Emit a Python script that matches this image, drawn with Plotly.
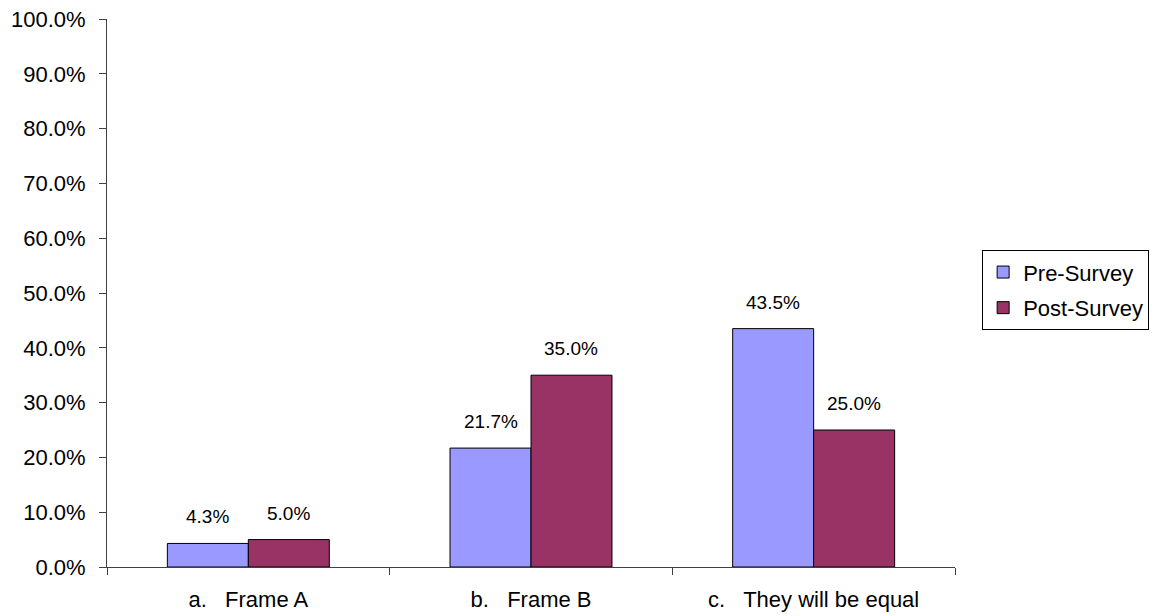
import plotly.graph_objects as go

categories = ["a.\u00a0\u00a0 Frame A", "b.\u00a0\u00a0 Frame B", "c.\u00a0\u00a0 They will be equal"]
pre_survey = [0.043, 0.217, 0.435]
post_survey = [0.050, 0.350, 0.250]
y_ticks = [0.0, 0.1, 0.2, 0.3, 0.4, 0.5, 0.6, 0.7, 0.8, 0.9, 1.0]

FONT = "Liberation Sans, Arial, sans-serif"
BARGAP = 0.427
AXIS = "#404040"

fig = go.Figure()
fig.add_trace(go.Bar(name="Pre-Survey", x=categories, y=pre_survey, legendgroup="pre",
                     marker=dict(color="#9999FF", line=dict(color="#000000", width=1))))
fig.add_trace(go.Bar(name="Post-Survey", x=categories, y=post_survey, legendgroup="post",
                     marker=dict(color="#993366", line=dict(color="#000000", width=1))))

half = (1 - BARGAP) / 4
for i in range(len(categories)):
    for v, off in ((pre_survey[i], -half), (post_survey[i], half)):
        fig.add_annotation(x=i + off, y=v, text=f"{v*100:.1f}%", showarrow=False,
                           yanchor="bottom", yshift=14,
                           font=dict(family=FONT, size=19, color="#000000"))

fig.update_layout(
    barmode="group", bargap=BARGAP, bargroupgap=0,
    width=1154, height=616,
    margin=dict(l=107, r=199, t=19, b=49, autoexpand=False),
    paper_bgcolor="white", plot_bgcolor="white",
    font=dict(family=FONT, size=22, color="#000000"),
    legend=dict(x=1.032, xanchor="left", y=0.578, yanchor="top",
                bordercolor="#000000", borderwidth=1, itemwidth=30,
                font=dict(family=FONT, size=22), tracegroupgap=4),
)
fig.update_xaxes(showline=True, linecolor=AXIS, linewidth=1,
                 ticks="outside", ticklen=7, tickcolor=AXIS,
                 tickson="boundaries", showgrid=False, ticklabelstandoff=13,
                 automargin=False, tickfont=dict(family=FONT, size=22))
fig.update_yaxes(range=[0, 1], tickvals=y_ticks, tickformat=".1%",
                 showline=True, linecolor=AXIS, linewidth=1,
                 ticks="outside", ticklen=7, tickcolor=AXIS,
                 showgrid=False, zeroline=False, ticklabelstandoff=9,
                 automargin=False, tickfont=dict(family=FONT, size=22))

fig.write_html("out.html")
